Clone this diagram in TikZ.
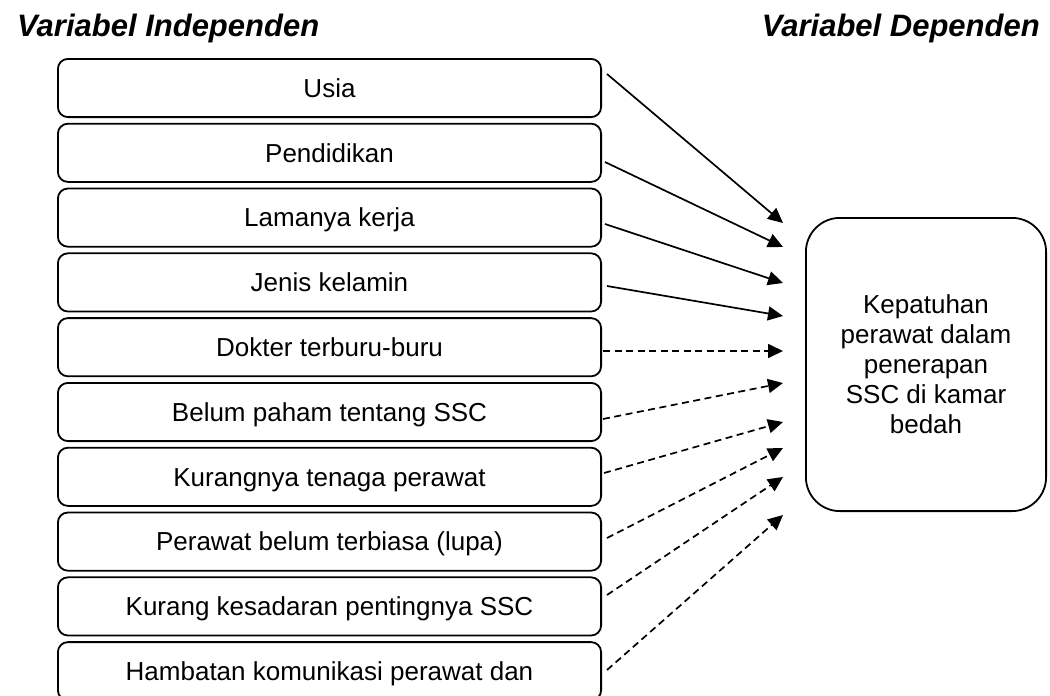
\documentclass[tikz,border=0pt]{standalone}
\usepackage{fontspec}
\setmainfont{Liberation Sans}
\usetikzlibrary{arrows.meta}
\tikzset{
  varbox/.style={draw, line width=1.8pt, rounded corners=10pt, minimum width=543.2pt, minimum height=58.2pt, inner sep=0pt, text height=18.6pt, text depth=0pt, font=\fontsize{26}{29.5}\selectfont},
  depbox/.style={draw, line width=1.8pt, rounded corners=34pt, minimum width=240.2pt, minimum height=293.2pt, inner sep=0pt, align=center, font=\fontsize{26}{30}\selectfont},
  title/.style={inner sep=0pt, font=\fontsize{31}{35}\selectfont\bfseries\itshape},
  solidarrow/.style={line width=1.7pt, -{Triangle[length=15pt,width=14pt]}},
  dasharrow/.style={line width=1.7pt, dash pattern=on 7pt off 4.5pt, -{Triangle[length=15pt,width=14pt]}}
}
\begin{document}
\begin{tikzpicture}[x=1pt,y=-1pt]
\useasboundingbox (0,0) rectangle (1050,696);
\clip (0,0) rectangle (1050,696);
\node[title, anchor=base west] (t1) at (17,36) {Variabel Independen};
\node[title, anchor=base east] (t2) at (1040,36) {Variabel Dependen};

\node[varbox] (b1) at (329.5,88) {Usia};
\node[varbox] (b2) at (329.5,152.8) {Pendidikan};
\node[varbox] (b3) at (329.5,217.6) {Lamanya kerja};
\node[varbox] (b4) at (329.5,282.4) {Jenis kelamin};
\node[varbox] (b5) at (329.5,347.2) {Dokter terburu-buru};
\node[varbox] (b6) at (329.5,412) {Belum paham tentang SSC};
\node[varbox] (b7) at (329.5,476.8) {Kurangnya tenaga perawat};
\node[varbox] (b8) at (329.5,541.6) {Perawat belum terbiasa (lupa)};
\node[varbox] (b9) at (329.5,606.4) {Kurang kesadaran pentingnya SSC};
\node[varbox] (b10) at (329.5,671.2) {Hambatan komunikasi perawat dan};

\node[depbox] (d) at (926,364.5) {Kepatuhan\\perawat dalam\\penerapan\\SSC di kamar\\bedah};

\coordinate (e1) at (783,223);
\coordinate (e2) at (783,247);
\coordinate (e3) at (783,283);
\coordinate (e4) at (783,316);
\coordinate (e5) at (783,351);
\coordinate (e6) at (783,383);
\coordinate (e7) at (783,422);
\coordinate (e8) at (783,448);
\coordinate (e9) at (783,477);
\coordinate (e10) at (783,515);

\draw[solidarrow] ([xshift=5pt,yshift=14pt]b1.east) -- (e1);
\draw[solidarrow] ([xshift=3pt,yshift=-9.2pt]b2.east) -- (e2);
\draw[solidarrow] ([xshift=3pt,yshift=-6.4pt]b3.east) -- (e3);
\draw[solidarrow] ([xshift=5pt,yshift=-3.6pt]b4.east) -- (e4);
\draw[dasharrow] ([xshift=1pt,yshift=-3.8pt]b5.east) -- (e5);
\draw[dasharrow] ([xshift=1pt,yshift=-7pt]b6.east) -- (e6);
\draw[dasharrow] ([xshift=2pt,yshift=3.8pt]b7.east) -- (e7);
\draw[dasharrow] ([xshift=5pt,yshift=3.6pt]b8.east) -- (e8);
\draw[dasharrow] ([xshift=5pt,yshift=11.4pt]b9.east) -- (e9);
\draw[dasharrow] ([xshift=5pt,yshift=1.2pt]b10.east) -- (e10);
\end{tikzpicture}
\end{document}
